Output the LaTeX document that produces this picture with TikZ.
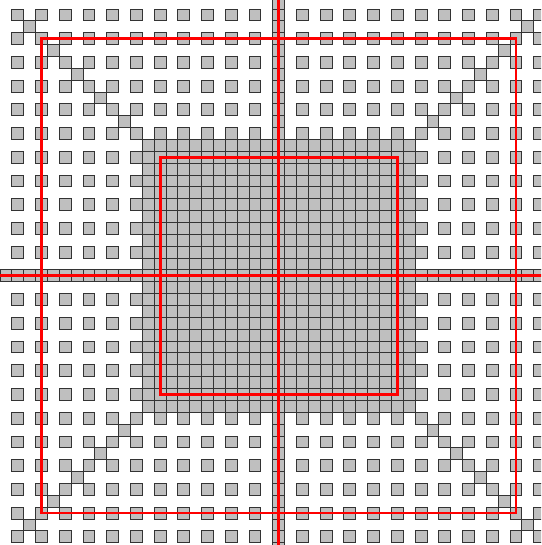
\documentclass[tikz,border=0pt]{standalone}
\usetikzlibrary{positioning}

\begin{document}
\begin{tikzpicture}[
    x=0.3cm, y=-0.3cm,
    cell/.style={draw=black!80, fill=gray!50, line width=0.7pt},
    frame/.style={draw=red, line width=2pt}
]
\useasboundingbox (0,0.24) rectangle (45.62,46.19);
\begin{scope}
\clip (0,0.24) rectangle (45.62,46.19);
% sparse lattice
\foreach \i in {1,3,...,45}
  \foreach \j in {1,3,...,45}
    \draw[cell] (\i,\j) rectangle ++(1,1);
% dense block
\foreach \i in {12,...,34}
  \foreach \j in {12,...,34}
    \draw[cell] (\i,\j) rectangle ++(1,1);
% middle row and column
\foreach \k in {0,...,46} {
  \draw[cell] (23,\k) rectangle ++(1,1);
  \draw[cell] (\k,23) rectangle ++(1,1);
}
% diagonals
\foreach \k in {2,4,...,10,36,38,...,44} {
  \draw[cell] (\k,\k) rectangle ++(1,1);
  \draw[cell] (\k,{46-\k}) rectangle ++(1,1);
}
% red frames
\draw[frame] (23.5,0) -- (23.5,47);
\draw[frame] (0,23.5) -- (47,23.5);
\draw[frame] (3.5,3.5) rectangle (43.5,43.5);
\draw[frame] (13.5,13.5) rectangle (33.5,33.5);
\end{scope}
\end{tikzpicture}
\end{document}
